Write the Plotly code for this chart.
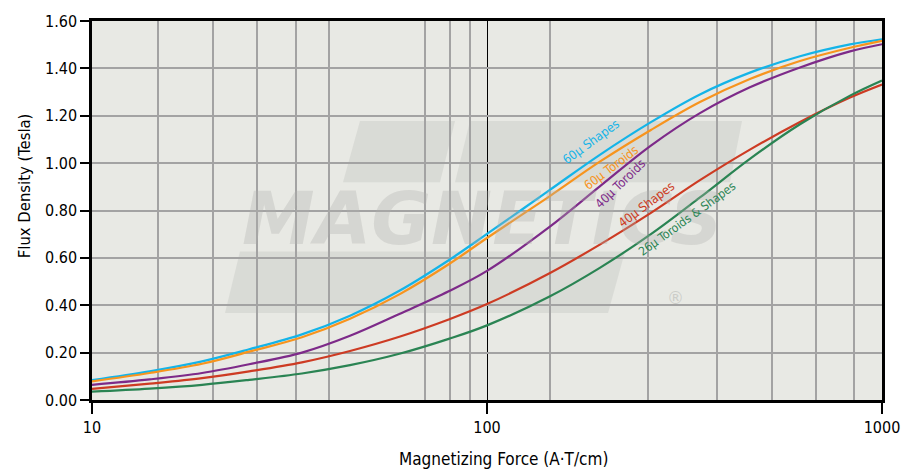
import plotly.graph_objects as go

# ---------------- data ----------------
magnetizing_force = [10, 14, 19, 25, 34, 45, 60, 80, 100, 144, 193, 260, 346, 463, 620, 830, 1000]

b_60u_shapes = [0.084, 0.121, 0.163, 0.214, 0.277, 0.356, 0.461, 0.590, 0.701, 0.886, 1.035, 1.173,
                1.290, 1.382, 1.451, 1.501, 1.523]
b_60u_toroids = [0.079, 0.114, 0.153, 0.204, 0.265, 0.343, 0.446, 0.573, 0.684, 0.860, 1.006, 1.140,
                 1.258, 1.355, 1.431, 1.487, 1.516]
b_40u_toroids = [0.064, 0.087, 0.114, 0.151, 0.200, 0.271, 0.363, 0.459, 0.545, 0.731, 0.902, 1.074,
                 1.211, 1.320, 1.404, 1.472, 1.502]
b_40u_shapes = [0.047, 0.069, 0.092, 0.121, 0.159, 0.207, 0.267, 0.340, 0.405, 0.535, 0.656, 0.790,
                0.928, 1.057, 1.174, 1.277, 1.332]
b_26u_all = [0.035, 0.048, 0.064, 0.085, 0.112, 0.147, 0.195, 0.258, 0.315, 0.437, 0.558, 0.700,
             0.855, 1.018, 1.164, 1.285, 1.349]

series_names = ["60µ Shapes", "60µ Toroids", "40µ Toroids", "40µ Shapes", "26µ Toroids & Shapes"]
series_values = [b_60u_shapes, b_60u_toroids, b_40u_toroids, b_40u_shapes, b_26u_all]
series_colors = ["#14b4e8", "#f7941e", "#7d2a89", "#cd3b23", "#2a8453"]

x_tick_vals = [10, 100, 1000]
x_tick_text = ["10", "100", "1000"]
x_grid_vals = [14.7, 20.3, 26.1, 32.75, 39.9, 69.5, 80.5, 90.8,
               144.4, 256, 383, 528, 680, 849]

FONT = "Liberation Sans Narrow, DejaVu Sans Condensed, Arial Narrow, sans-serif"

# plot-area geometry in pixels (for placing decorations)
L, R, T, B = 92, 882, 17, 400


def pp(x, y):
    return (x - L) / (R - L), (B - y) / (B - T)


fig = go.Figure()

for name, vals, col in zip(series_names, series_values, series_colors):
    fig.add_trace(go.Scatter(x=magnetizing_force, y=vals, mode="lines", name=name,
                             line=dict(color=col, width=2.2, shape="spline", smoothing=1.0),
                             hoverinfo="x+y+name"))

# ---------------- faint watermark shapes ----------------
wm = "rgba(200,201,197,0.45)"


def poly(points):
    s = ""
    for i, (x, y) in enumerate(points):
        px_, py_ = pp(x, y)
        s += ("M" if i == 0 else "L") + f" {px_:.4f},{py_:.4f} "
    return s + "Z"


shapes = [
    poly([(343, 180), (360, 118), (455, 118), (440, 180)]),
    poly([(455, 180), (470, 118), (742, 118), (730, 180)]),
    poly([(225, 312), (240, 250), (625, 250), (608, 312)]),
]
for s in shapes:
    fig.add_shape(type="path", path=s, xref="paper", yref="paper",
                  fillcolor=wm, line=dict(width=0), layer="below")

annotations = []


def add_text(px_x, px_y, text, font, angle=0):
    ax_, ay_ = pp(px_x, px_y)
    annotations.append(dict(x=ax_, y=ay_, xref="paper", yref="paper", text=text, showarrow=False,
                            xanchor="center", yanchor="middle", textangle=angle, font=font))


add_text(482, 217, "MAGNETICS",
         dict(family="DejaVu Sans", size=73, color="rgba(175,176,172,0.33)", weight="bold", style="italic"))
add_text(675, 297, "®", dict(family="DejaVu Sans", size=17, color="rgba(175,176,172,0.5)"))

# ---------------- curve labels ----------------
label_pos = [(591, 139, -36, 12.5), (611, 165, -37, 12.5), (620, 181, -44, 12.5),
             (646, 202, -37, 12.5), (687, 217, -36, 12)]
for name, col, (lx, ly, ang, fs) in zip(series_names, series_colors, label_pos):
    add_text(lx, ly, name, dict(family=FONT, size=fs, color=col), ang)

# ---------------- axis titles ----------------
add_text(503, 460, "Magnetizing Force (A·T/cm)", dict(family=FONT, size=17, color="black"))
add_text(24, 184, "Flux Density (Tesla)", dict(family=FONT, size=16.5, color="black"), -90)

fig.update_layout(
    width=916, height=471,
    margin=dict(l=L, r=916 - R, t=T, b=471 - B),
    paper_bgcolor="white",
    plot_bgcolor="#e8e9e4",
    showlegend=False,
    annotations=annotations,
)

fig.update_xaxes(
    type="log", range=[1, 3],
    tickmode="array", tickvals=x_tick_vals, ticktext=x_tick_text,
    ticks="outside", ticklen=11, tickwidth=1.5, tickcolor="black",
    showline=True, linewidth=2.5, linecolor="black", mirror=True,
    showgrid=True, gridcolor="black", gridwidth=1,
    minor=dict(tickmode="array", tickvals=x_grid_vals, showgrid=True,
               gridcolor="#a3a3a3", gridwidth=1.5, ticks=""),
    tickfont=dict(family=FONT, size=16, color="black"),
    zeroline=False,
)

fig.update_yaxes(
    range=[0, 1.6], tickmode="linear", tick0=0, dtick=0.2, tickformat=".2f",
    ticks="outside", ticklen=9, tickwidth=1.5, tickcolor="black",
    showline=True, linewidth=2.5, linecolor="black", mirror=True,
    showgrid=True, gridcolor="#a3a3a3", gridwidth=1.5,
    tickfont=dict(family=FONT, size=16, color="black"),
    zeroline=False,
)

fig.write_html("out.html")
